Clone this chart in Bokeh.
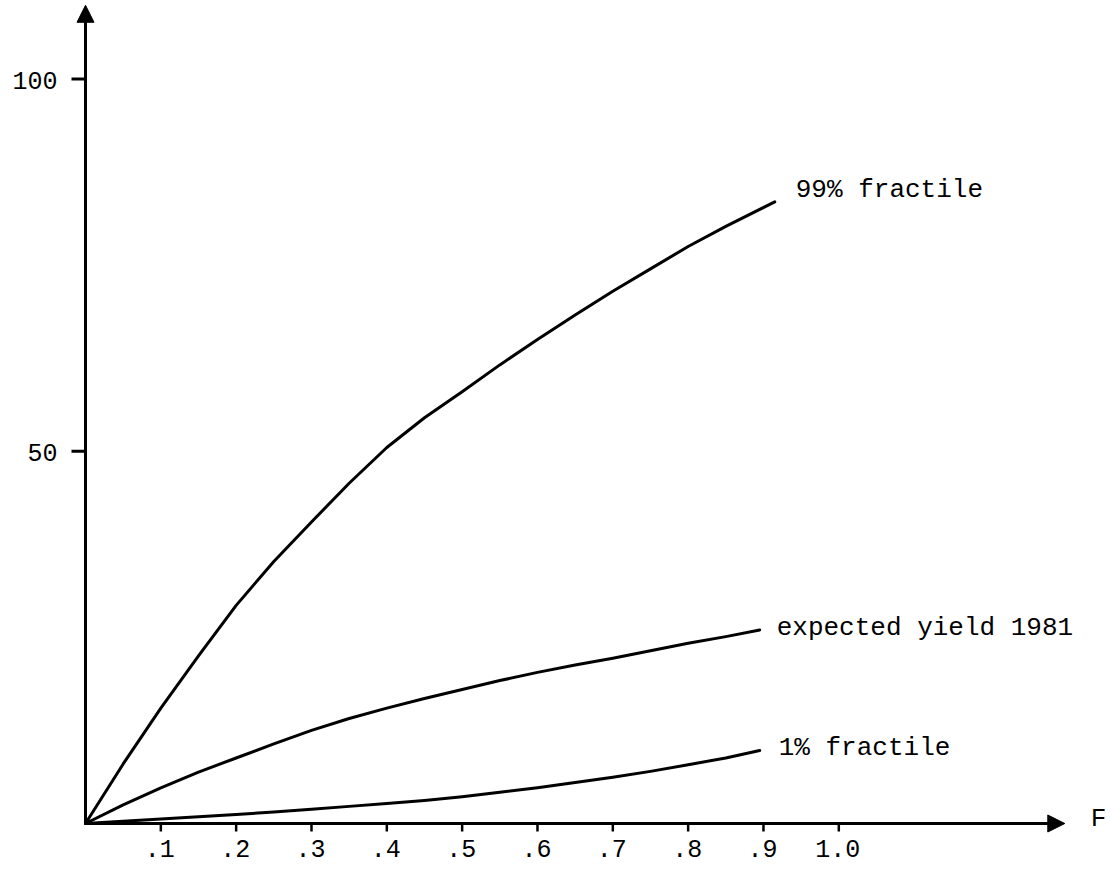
from bokeh.plotting import figure
from bokeh.models import Arrow, NormalHead, Label, Range1d
from bokeh.embed import file_html
from bokeh.resources import INLINE

# ---- data ----
F_99 = [0.0, 0.05, 0.1, 0.15, 0.2, 0.25, 0.3, 0.35, 0.4, 0.45, 0.5, 0.55, 0.6, 0.65, 0.7, 0.75, 0.8, 0.85, 0.915]
Y_99 = [0.0, 8.0, 15.5, 22.5, 29.3, 35.2, 40.5, 45.7, 50.5, 54.5, 58.0, 61.6, 65.0, 68.3, 71.5, 74.5, 77.5, 80.2, 83.5]

F_exp = [0.0, 0.05, 0.1, 0.15, 0.2, 0.25, 0.3, 0.35, 0.4, 0.45, 0.5, 0.55, 0.6, 0.65, 0.7, 0.75, 0.8, 0.85, 0.895]
Y_exp = [0.0, 2.5, 4.8, 6.9, 8.8, 10.7, 12.5, 14.1, 15.5, 16.8, 18.0, 19.2, 20.3, 21.3, 22.2, 23.2, 24.2, 25.1, 26.0]

F_01 = [0.0, 0.05, 0.1, 0.15, 0.2, 0.25, 0.3, 0.35, 0.4, 0.45, 0.5, 0.55, 0.6, 0.65, 0.7, 0.75, 0.8, 0.85, 0.895]
Y_01 = [0.0, 0.3, 0.6, 0.9, 1.2, 1.55, 1.9, 2.3, 2.7, 3.1, 3.6, 4.2, 4.8, 5.5, 6.2, 7.0, 7.9, 8.8, 9.8]

series_labels = ["99% fractile", "expected yield 1981", "1% fractile"]

x_tick_values = [0.1, 0.2, 0.3, 0.4, 0.5, 0.6, 0.7, 0.8, 0.9, 1.0]
x_tick_labels = [".1", ".2", ".3", ".4", ".5", ".6", ".7", ".8", ".9", "1.0"]
y_tick_values = [50, 100]
y_tick_labels = ["50", "100"]
x_axis_label = "F"
x_axis_end = 1.3
y_axis_end = 109.9

FONT = "Liberation Mono"

# pixel scale of the drawing (layout only)
PX_X = 753.3   # pixels per unit of F
PX_Y = 7.445   # pixels per unit of yield
LEFT, BOTTOM = 85, 50
W, H = 1111, 873

p = figure(width=W, height=H,
           x_range=Range1d(-LEFT / PX_X, (W - LEFT) / PX_X),
           y_range=Range1d(-BOTTOM / PX_Y, (H - BOTTOM) / PX_Y),
           output_backend="svg", toolbar_location=None,
           min_border=0)
p.outline_line_color = None
p.grid.visible = False
p.xaxis.visible = False
p.yaxis.visible = False
p.background_fill_color = "white"
p.border_fill_color = "white"

# axis lines with arrow heads
p.add_layout(Arrow(end=NormalHead(size=17, fill_color="black", line_color="black"),
                   x_start=0, y_start=0, x_end=0, y_end=y_axis_end,
                   line_width=3, line_color="black"))
p.add_layout(Arrow(end=NormalHead(size=17, fill_color="black", line_color="black"),
                   x_start=0, y_start=0, x_end=x_axis_end, y_end=0,
                   line_width=3, line_color="black"))
p.add_layout(Label(x=x_axis_end, y=0, x_offset=26, y_offset=5, text=x_axis_label,
                   text_font=FONT, text_font_size="26px", text_color="black",
                   text_baseline="middle", text_align="left"))

# ticks
tick_x_len = 8 / PX_Y
tick_y_len = 14 / PX_X
p.segment(x0=x_tick_values, y0=[0] * len(x_tick_values),
          x1=x_tick_values, y1=[-tick_x_len] * len(x_tick_values),
          line_width=2.5, line_color="black")
p.segment(x0=[-tick_y_len] * len(y_tick_values), y0=y_tick_values,
          x1=[0] * len(y_tick_values), y1=y_tick_values,
          line_width=3, line_color="black")

from bokeh.core.properties import value
p.text(x=x_tick_values, y=[0] * len(x_tick_values), text=x_tick_labels,
       x_offset=-1, y_offset=25, text_align="center", text_baseline="middle",
       text_font=value(FONT), text_font_size="25px", text_color="black")
p.text(x=[0] * len(y_tick_values), y=y_tick_values, text=y_tick_labels,
       x_offset=-28, y_offset=1, text_align="right", text_baseline="middle",
       text_font=value(FONT), text_font_size="25px", text_color="black")

# curves
series = [(F_99, Y_99, 21, 12), (F_exp, Y_exp, 17, 2), (F_01, Y_01, 19, 3)]
for (fx, fy, dx, dy), lab in zip(series, series_labels):
    p.line(fx, fy, line_width=3, line_color="black", line_join="round", line_cap="round")
    p.add_layout(Label(x=fx[-1], y=fy[-1], x_offset=dx, y_offset=dy, text=lab,
                       text_font=FONT, text_font_size="26px", text_color="black",
                       text_baseline="middle", text_align="left"))

open("out.html", "w").write(file_html(p, INLINE))
